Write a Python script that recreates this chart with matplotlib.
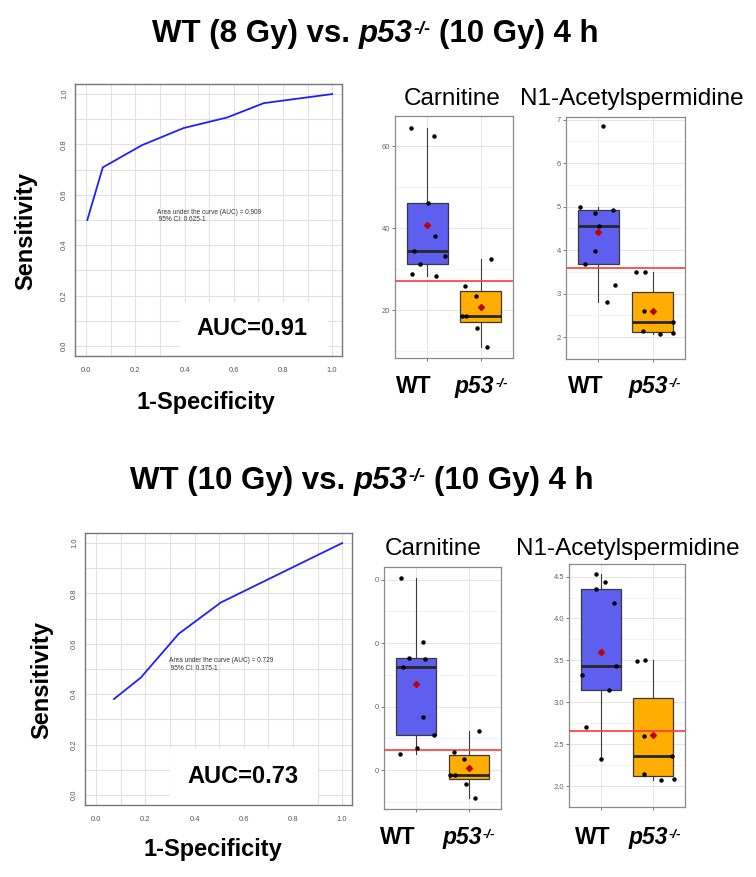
import numpy as np
import matplotlib.pyplot as plt
from matplotlib.patches import Rectangle
from matplotlib.text import Annotation

plt.rcParams['font.family'] = ['Liberation Sans', 'DejaVu Sans']

W, H = 756, 877

# ---- data ----
# titles are split so "p53" can be italic with a small "-/-" raised after it
title1_parts = ['WT (8 Gy) vs.', 'p53', '-/-', '(10 Gy) 4 h']
title2_parts = ['WT (10 Gy) vs.', 'p53', '-/-', '(10 Gy) 4 h']
metabolites = ['Carnitine', 'N1-Acetylspermidine']
groups = ['WT', 'p53']
group_sup = '-/-'

# ROC curves
roc1_fpr = [0.005, 0.068, 0.227, 0.396, 0.573, 0.722, 1.0]
roc1_tpr = [0.50, 0.709, 0.797, 0.865, 0.907, 0.964, 1.0]
roc1_auc = 'Area under the curve (AUC) = 0.909\n 95% CI: 0.625-1'
roc1_big = 'AUC=0.91'
roc2_fpr = [0.073, 0.182, 0.336, 0.507, 1.0]
roc2_tpr = [0.381, 0.466, 0.640, 0.764, 1.0]
roc2_auc = 'Area under the curve (AUC) = 0.729\n 95% CI: 0.375-1'
roc2_big = 'AUC=0.73'

# top row box plots
carn1_wt = [64.5, 62.5, 46.2, 38.2, 34.5, 33.3, 31.3, 28.9, 28.3]
carn1_wt_jit = [-0.30, 0.13, 0.01, 0.14, -0.24, 0.34, -0.13, -0.29, 0.17]
carn1_ko = [32.4, 25.9, 23.5, 18.6, 18.6, 15.7, 11.1]
carn1_ko_jit = [0.19, -0.29, -0.09, -0.36, -0.28, -0.07, 0.12]
carn1_cut = 27.1
carn1_yticks = [20, 40, 60]
carn1_yticklabels = ['20', '40', '60']

acsp1_wt = [5.0, 4.92, 4.86, 4.56, 3.97, 3.68, 3.19, 2.81, 6.86]
acsp1_wt_jit = [-0.35, 0.27, -0.07, 0.01, -0.07, -0.25, 0.30, 0.16, 0.08]
acsp1_ko = [3.49, 3.51, 2.60, 2.14, 2.08, 2.09, 2.36]
acsp1_ko_jit = [-0.30, -0.14, -0.16, -0.17, 0.14, 0.38, 0.37]
acsp1_cut = 3.59
acsp1_yticks = [2, 3, 4, 5, 6, 7]
acsp1_yticklabels = ['2', '3', '4', '5', '6', '7']

# bottom row box plots (carnitine tick labels are cut to "0" in the original)
carn2_wt = [40.27, 30.13, 27.66, 27.45, 26.19, 18.36, 15.62, 13.47, 12.52]
carn2_wt_jit = [-0.275, 0.13, -0.125, 0.17, -0.24, 0.14, 0.34, 0.02, -0.30]
carn2_ko = [16.15, 12.94, 11.73, 9.26, 9.26, 7.85, 5.59]
carn2_ko_jit = [0.18, -0.29, -0.09, -0.36, -0.27, -0.06, 0.12]
carn2_cut = 13.2
carn2_yticks = [10, 20, 30, 40]
carn2_yticklabels = ['0', '0', '0', '0']

acsp2_wt = [4.53, 4.44, 4.35, 4.18, 3.43, 3.33, 3.15, 2.70, 2.32]
acsp2_wt_jit = [-0.08, 0.09, -0.08, 0.26, 0.29, -0.36, 0.15, -0.27, 0.0]
acsp2_ko = [3.49, 3.51, 2.60, 2.145, 2.07, 2.085, 2.36]
acsp2_ko_jit = [-0.31, -0.15, -0.17, -0.18, 0.14, 0.39, 0.36]
acsp2_cut = 2.66
acsp2_yticks = [2.0, 2.5, 3.0, 3.5, 4.0, 4.5]
acsp2_yticklabels = ['2.0', '2.5', '3.0', '3.5', '4.0', '4.5']

box_colors = ['#5E5EEF', '#FFAD00']


def rect(l, t, r, b):
    # pixel box -> figure fraction
    return [l / W, 1 - b / H, (r - l) / W, (b - t) / H]


def ftext(x, y, s, **kw):
    return fig.text(x / W, 1 - y / H, s, **kw)


def sup_after(base, s, size):
    # small bold italic superscript glued to the right of a text artist
    a = Annotation(s, xy=(1, 0.36), xycoords=base, xytext=(0.6, 0),
                   textcoords='offset points', fontsize=size * 0.58,
                   fontweight='bold', fontstyle='italic', ha='left', va='bottom')
    fig.add_artist(a)
    return a


def title_line(x, y, parts, size):
    gap = 0.28 * size
    t0 = ftext(x, y, parts[0], fontsize=size, fontweight='bold', ha='left', va='baseline')
    t1 = Annotation(parts[1], xy=(1, 0), xycoords=t0, xytext=(gap, 0),
                    textcoords='offset points', fontsize=size, fontweight='bold',
                    fontstyle='italic', ha='left', va='bottom')
    fig.add_artist(t1)
    t2 = sup_after(t1, parts[2], size)
    t3 = Annotation(parts[3], xy=(1, 0), xycoords=(t2, t1), xytext=(gap, 0),
                    textcoords='offset points', fontsize=size, fontweight='bold',
                    ha='left', va='bottom')
    fig.add_artist(t3)


def roc_panel(ax, fpr, tpr, auc_txt, big_txt, auc_xy, big_xy, white_box):
    ax.add_patch(Rectangle(white_box[:2], white_box[2], white_box[3],
                           facecolor='white', edgecolor='none', zorder=1))
    ax.plot(fpr, tpr, color='#2020FF', lw=1.3, zorder=2)
    ax.text(auc_xy[0], auc_xy[1], auc_txt, fontsize=4.7, color='#333333',
            ha='left', va='top', linespacing=1.15, zorder=3)
    ax.text(big_xy[0], big_xy[1], big_txt, fontsize=17, fontweight='bold',
            ha='center', va='baseline', zorder=3)
    ax.set_xlim(-0.045, 1.04)
    ax.set_ylim(-0.04, 1.04)
    ticks = np.arange(0, 1.01, 0.2)
    ax.set_xticks(ticks)
    ax.set_yticks(ticks)
    ax.set_xticklabels(['%.1f' % v for v in ticks])
    ax.set_yticklabels(['%.1f' % v for v in ticks], rotation=90, va='center')
    ax.set_xticks(np.arange(0.1, 1.0, 0.2), minor=True)
    ax.set_yticks(np.arange(0.1, 1.0, 0.2), minor=True)
    ax.grid(which='both', color='#E2E2E2', lw=0.8)
    ax.set_axisbelow(True)
    ax.tick_params(which='both', length=0, labelsize=5.5, labelcolor='#555555')
    ax.tick_params(axis='x', pad=8)
    ax.tick_params(axis='y', pad=5)
    for sp in ax.spines.values():
        sp.set_color('#777777')
        sp.set_linewidth(1.0)


def box_panel(ax, wt, wt_jit, ko, ko_jit, cut, yticks, yticklabels, ylim):
    bp = ax.boxplot([wt, ko], positions=[1, 2], widths=0.76, whis=1.5,
                    showfliers=False, showcaps=False, patch_artist=True,
                    boxprops=dict(edgecolor='#3A3A3A', linewidth=0.9),
                    medianprops=dict(color='#262626', linewidth=2.0),
                    whiskerprops=dict(color='#3A3A3A', linewidth=0.8))
    for patch, c in zip(bp['boxes'], box_colors):
        patch.set_facecolor(c)
    ax.axhline(cut, color='#FF3A3A', lw=1.2, zorder=4)
    ax.plot(1 + np.array(wt_jit), wt, 'o', color='black', ms=2.2, zorder=5)
    ax.plot(2 + np.array(ko_jit), ko, 'o', color='black', ms=2.2, zorder=5)
    ax.plot([1, 2], [np.mean(wt), np.mean(ko)], 'D', color='#C00000',
            ms=3.0, zorder=6)
    ax.set_xlim(0.4, 2.6)
    ax.set_ylim(*ylim)
    ax.set_xticks([1, 2])
    ax.set_xticklabels(['', ''])
    ax.set_yticks(yticks)
    ax.set_yticklabels(yticklabels)
    step = yticks[1] - yticks[0]
    ax.set_yticks(np.arange(yticks[0] - step / 2, ylim[1], step), minor=True)
    ax.grid(which='major', color='#E6E6E6', lw=0.7)
    ax.grid(which='minor', axis='y', color='#F1F1F1', lw=0.6)
    ax.set_axisbelow(True)
    ax.tick_params(which='major', length=2, width=0.6, color='#666666',
                   labelsize=5.5, labelcolor='#666666', pad=1.5)
    ax.tick_params(which='minor', length=0)
    for sp in ax.spines.values():
        sp.set_color('#8A8A8A')
        sp.set_linewidth(0.9)


fig = plt.figure(figsize=(W / 100, H / 100), dpi=100)

# ---- titles ----
title_line(152, 42, title1_parts, 22.5)
title_line(130, 489, title2_parts, 22.5)

# ---- ROC panels ----
ax = fig.add_axes(rect(75, 84, 342, 356))
roc_panel(ax, roc1_fpr, roc1_tpr, roc1_auc, roc1_big,
          (0.29, 0.545), (0.672, 0.044), (0.383, -0.04, 0.60, 0.216))
ftext(26, 231, 'Sensitivity', fontsize=17, fontweight='bold', rotation=90,
      ha='center', va='center')
ftext(206, 409, '1-Specificity', fontsize=17, fontweight='bold', ha='center', va='baseline')

ax = fig.add_axes(rect(85, 533, 352, 805))
roc_panel(ax, roc2_fpr, roc2_tpr, roc2_auc, roc2_big,
          (0.296, 0.546), (0.596, 0.049), (0.30, -0.04, 0.60, 0.225))
ftext(42, 680, 'Sensitivity', fontsize=17, fontweight='bold', rotation=90,
      ha='center', va='center')
ftext(213, 856, '1-Specificity', fontsize=17, fontweight='bold', ha='center', va='baseline')

# ---- box plot panels ----
ax = fig.add_axes(rect(395, 116, 513, 358))
box_panel(ax, carn1_wt, carn1_wt_jit, carn1_ko, carn1_ko_jit, carn1_cut,
          carn1_yticks, carn1_yticklabels, (8.3, 67.4))
ax = fig.add_axes(rect(566, 117, 685, 359))
box_panel(ax, acsp1_wt, acsp1_wt_jit, acsp1_ko, acsp1_ko_jit, acsp1_cut,
          acsp1_yticks, acsp1_yticklabels, (1.84, 7.06))
ax = fig.add_axes(rect(384, 567, 501, 809))
box_panel(ax, carn2_wt, carn2_wt_jit, carn2_ko, carn2_ko_jit, carn2_cut,
          carn2_yticks, carn2_yticklabels, (3.9, 42.0))
ax = fig.add_axes(rect(569, 564, 685, 807))
box_panel(ax, acsp2_wt, acsp2_wt_jit, acsp2_ko, acsp2_ko_jit, acsp2_cut,
          acsp2_yticks, acsp2_yticklabels, (1.944, 4.65))

# panel titles
for x, y, name in [(452, 105, metabolites[0]), (632, 105, metabolites[1]),
                   (433, 555, metabolites[0]), (628, 555, metabolites[1])]:
    ftext(x, y, name, fontsize=17.5, ha='center', va='baseline')

# group labels under the box plots: WT centred, p53 starting at its left edge
lab_size = 16.5
for x, y in [(413.5, 393), (586, 393), (398, 844), (593, 844)]:
    ftext(x, y, groups[0], fontsize=lab_size, fontweight='bold', ha='center', va='baseline')
for x, y in [(455, 393), (628, 393), (442, 844), (628, 844)]:
    t = ftext(x, y, groups[1], fontsize=lab_size, fontweight='bold',
              fontstyle='italic', ha='left', va='baseline')
    sup_after(t, group_sup, lab_size)

fig.savefig('out.png', dpi=100, facecolor='white')
